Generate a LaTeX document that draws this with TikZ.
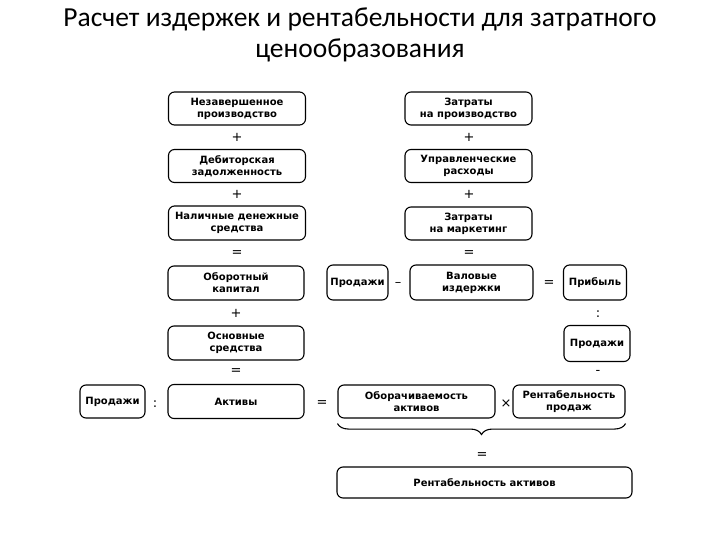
\documentclass[tikz,border=0pt]{standalone}
\usepackage{fontspec}
\setmainfont{Carlito}
\newfontfamily\boxfont{DejaVu Sans}
\usetikzlibrary{decorations.pathreplacing}

\tikzset{
  blok/.style={draw, rounded corners=6pt, line width=1.1pt, align=center, inner sep=1pt,
               font=\boxfont\bfseries\fontsize{10}{12}\selectfont},
  znak/.style={inner sep=0pt, font=\boxfont\fontsize{13}{13}\selectfont},
}

\begin{document}
\begin{tikzpicture}[x=1pt,y=-1pt]
  \useasboundingbox (0,0) rectangle (720,540);
  \node[align=center, font=\fontsize{27.5}{31}\selectfont] (title) at (360,35)
       {Расчет издержек и рентабельности для затратного\\ценообразования};

  % left column
  \node[blok, minimum width=137pt, minimum height=33pt] (nezav)  at (237,108.5) {Незавершенное\\производство};
  \node[znak] (p1) at (237,137) {+};
  \node[blok, minimum width=137pt, minimum height=33pt] (debit)  at (237,166)   {Дебиторская\\задолженность};
  \node[znak] (p2) at (237,194) {+};
  \node[blok, minimum width=137pt, minimum height=34pt] (nalich) at (237,223)   {Наличные денежные\\средства};
  \node[znak] (e1) at (237,254) {=};
  \node[blok, minimum width=136pt, minimum height=34pt] (oborot) at (236,283)   {Оборотный\\капитал};
  \node[znak] (p3) at (236,313) {+};
  \node[blok, minimum width=136pt, minimum height=34pt] (osnov)  at (236,343)   {Основные\\средства};
  \node[znak] (e2) at (236,372) {=};
  \node[blok, minimum width=136pt, minimum height=34pt] (aktiv)  at (236,401.5) {Активы};

  % right column
  \node[blok, minimum width=127pt, minimum height=33pt] (zproizv) at (468.5,108.5) {Затраты\\на производство};
  \node[znak] (p4) at (469,137) {+};
  \node[blok, minimum width=127pt, minimum height=33pt] (uprav)   at (468.5,166)   {Управленческие\\расходы};
  \node[znak] (p5) at (469,194) {+};
  \node[blok, minimum width=127pt, minimum height=33pt] (zmark)   at (468.5,223.5) {Затраты\\на маркетинг};
  \node[znak] (e3) at (469,254) {=};

  % middle row
  \node[blok, minimum width=61pt, minimum height=35pt]  (prodA)  at (357.5,282.5) {Продажи};
  \node[znak] (m1) at (398,284) {–};
  \node[blok, minimum width=123pt, minimum height=35pt] (valov)  at (471.5,282.5) {Валовые\\издержки};
  \node[znak] (e4) at (549,284) {=};
  \node[blok, minimum width=63pt, minimum height=35pt]  (pribyl) at (595,282.5)   {Прибыль};
  \node[znak] (d1) at (598,314) {:};
  \node[blok, minimum width=66pt, minimum height=36pt]  (prodB)  at (597,343.5)   {Продажи};
  \node[znak] (m2) at (598,372) {-};

  % bottom row
  \node[blok, minimum width=65pt, minimum height=33pt]  (prodC)   at (112.5,401.5) {Продажи};
  \node[znak] (d2) at (155,404) {:};
  \node[znak] (e5) at (322,404) {=};
  \node[blok, minimum width=157pt, minimum height=33pt] (oborach) at (416.5,401.5) {Оборачиваемость\\активов};
  \node[znak] (x1) at (506,404) {×};
  \node[blok, minimum width=112pt, minimum height=33pt] (rprod)   at (569,401.5)   {Рентабельность\\продаж};

  \draw[line width=1.1pt, decorate, decoration={brace, mirror, amplitude=11pt}]
       ([yshift=-5pt]oborach.south west) -- ([yshift=-5pt]rprod.south east);
  \node[znak] (e6) at (482,456) {=};
  \node[blok, minimum width=295pt, minimum height=31pt] (raktiv) at (484.5,482.5) {Рентабельность активов};
\end{tikzpicture}
\end{document}
